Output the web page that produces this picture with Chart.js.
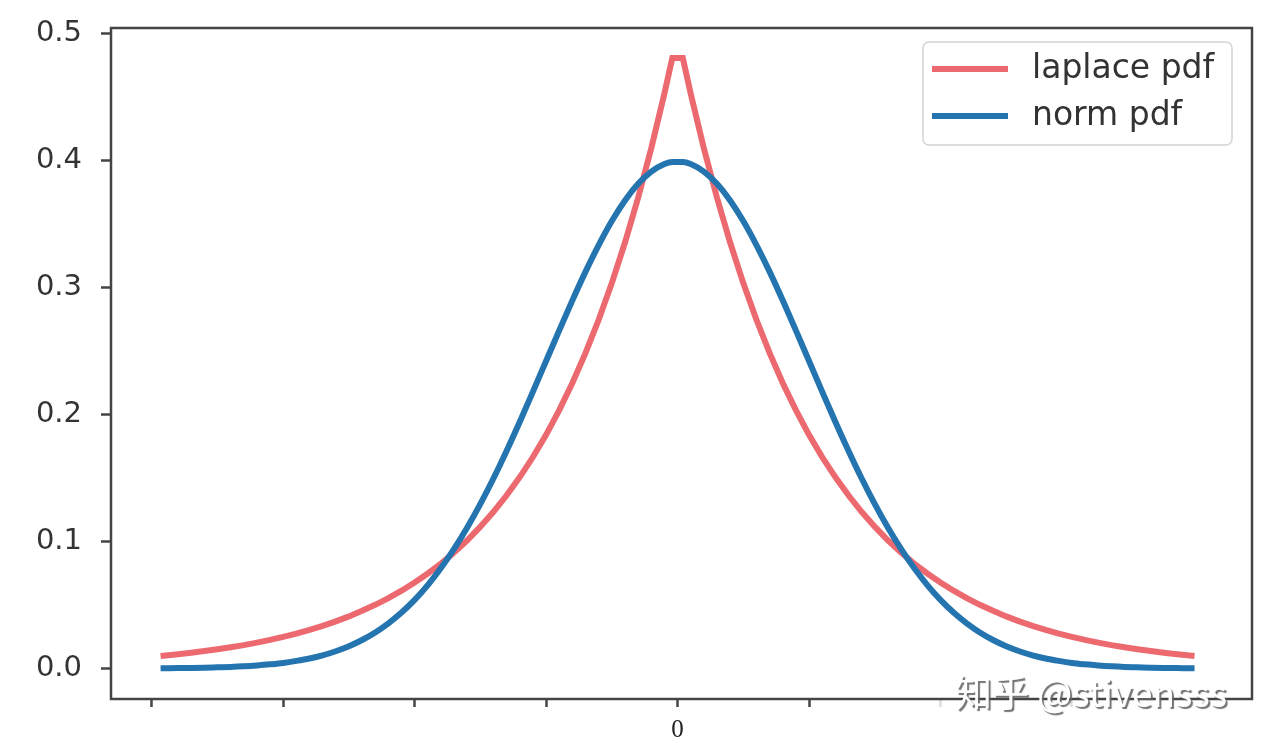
<!DOCTYPE html>
<html>
<head>
<meta charset="utf-8">
<script src="https://cdn.jsdelivr.net/npm/chart.js@4"></script>
<style>
  html, body { margin: 0; padding: 0; background: #fff; }
  canvas { display: block; }
</style>
</head>
<body>
<canvas id="mainChart" width="1268" height="743"></canvas>
<script>
// sample positions along x (shared by both curves)
const xValues = [
  -3.91, -3.8, -3.7, -3.6, -3.5, -3.4, -3.3, -3.2, -3.1, -3.0,
  -2.9, -2.8, -2.7, -2.6, -2.5, -2.4, -2.3, -2.2, -2.1, -2.0,
  -1.9, -1.8, -1.7, -1.6, -1.5, -1.4, -1.3, -1.2, -1.1, -1.0,
  -0.9, -0.8, -0.7, -0.6, -0.5, -0.4, -0.3, -0.2, -0.1, -0.04,
  0.04, 0.1, 0.2, 0.3, 0.4, 0.5, 0.6, 0.7, 0.8, 0.9,
  1.0, 1.1, 1.2, 1.3, 1.4, 1.5, 1.6, 1.7, 1.8, 1.9,
  2.0, 2.1, 2.2, 2.3, 2.4, 2.5, 2.6, 2.7, 2.8, 2.9,
  3.0, 3.1, 3.2, 3.3, 3.4, 3.5, 3.6, 3.7, 3.8, 3.91
];

const laplaceValues = [
  0.0100, 0.0112, 0.0124, 0.0137, 0.0151, 0.0167, 0.0184, 0.0204, 0.0225, 0.0249,
  0.0275, 0.0304, 0.0336, 0.0371, 0.0410, 0.0454, 0.0501, 0.0554, 0.0612, 0.0677,
  0.0748, 0.0826, 0.0913, 0.1009, 0.1116, 0.1233, 0.1363, 0.1506, 0.1664, 0.1839,
  0.2033, 0.2247, 0.2483, 0.2744, 0.3033, 0.3352, 0.3704, 0.4094, 0.4524, 0.4804,
  0.4804, 0.4524, 0.4094, 0.3704, 0.3352, 0.3033, 0.2744, 0.2483, 0.2247, 0.2033,
  0.1839, 0.1664, 0.1506, 0.1363, 0.1233, 0.1116, 0.1009, 0.0913, 0.0826, 0.0748,
  0.0677, 0.0612, 0.0554, 0.0501, 0.0454, 0.0410, 0.0371, 0.0336, 0.0304, 0.0275,
  0.0249, 0.0225, 0.0204, 0.0184, 0.0167, 0.0151, 0.0137, 0.0124, 0.0112, 0.0100
];

const normValues = [
  0.0002, 0.0003, 0.0004, 0.0006, 0.0009, 0.0012, 0.0017, 0.0024, 0.0033, 0.0044,
  0.0060, 0.0079, 0.0104, 0.0136, 0.0175, 0.0224, 0.0283, 0.0355, 0.0440, 0.0540,
  0.0656, 0.0790, 0.0941, 0.1109, 0.1295, 0.1497, 0.1714, 0.1942, 0.2179, 0.2420,
  0.2661, 0.2897, 0.3123, 0.3332, 0.3521, 0.3683, 0.3814, 0.3910, 0.3970, 0.3986,
  0.3986, 0.3970, 0.3910, 0.3814, 0.3683, 0.3521, 0.3332, 0.3123, 0.2897, 0.2661,
  0.2420, 0.2179, 0.1942, 0.1714, 0.1497, 0.1295, 0.1109, 0.0941, 0.0790, 0.0656,
  0.0540, 0.0440, 0.0355, 0.0283, 0.0224, 0.0175, 0.0136, 0.0104, 0.0079, 0.0060,
  0.0044, 0.0033, 0.0024, 0.0017, 0.0012, 0.0009, 0.0006, 0.0004, 0.0003, 0.0002
];

const seriesLabels = ["laplace pdf", "norm pdf"];
const xTicks = [-4, -3, -2, -1, 0, 1, 2, 3, 4];
const yTicks = [0.0, 0.1, 0.2, 0.3, 0.4, 0.5];

const redLine = '#ec6a6f';
const blueLine = '#2474b0';
const axisColor = '#444';

// axes frame (all four spines, like matplotlib)
const framePlugin = {
  id: 'frame',
  beforeDatasetsDraw(chart) {
    const { ctx, chartArea: a } = chart;
    ctx.save();
    ctx.strokeStyle = axisColor;
    ctx.lineWidth = 2.5;
    ctx.strokeRect(a.left, a.top, a.right - a.left, a.bottom - a.top);
    ctx.restore();
  }
};

// legend box inside the upper right corner
const legendPlugin = {
  id: 'innerLegend',
  afterDatasetsDraw(chart) {
    const { ctx, chartArea: a } = chart;
    const boxX = a.right - 329, boxY = a.top + 14, boxW = 309, boxH = 103;
    ctx.save();
    ctx.beginPath();
    ctx.roundRect(boxX, boxY, boxW, boxH, 6);
    ctx.fillStyle = 'rgba(255,255,255,0.85)';
    ctx.fill();
    ctx.strokeStyle = '#d4d4d4';
    ctx.lineWidth = 1.5;
    ctx.stroke();

    chart.data.datasets.forEach((ds, i) => {
      const y = boxY + 27 + i * 47;
      ctx.beginPath();
      ctx.strokeStyle = ds.borderColor;
      ctx.lineWidth = 6;
      ctx.moveTo(boxX + 9, y);
      ctx.lineTo(boxX + 85, y);
      ctx.stroke();
      ctx.fillStyle = '#333';
      ctx.font = '33px "DejaVu Sans"';
      ctx.textBaseline = 'middle';
      ctx.fillText(ds.label, boxX + 109, y);
    });
    ctx.restore();
  }
};

// site watermark at the bottom right
const watermarkPlugin = {
  id: 'watermark',
  afterDraw(chart) {
    const { ctx } = chart;
    ctx.save();
    ctx.font = '37px "Noto Sans CJK SC"';
    ctx.textBaseline = 'alphabetic';
    ctx.shadowColor = 'rgba(100,100,100,0.9)';
    ctx.shadowOffsetX = 2;
    ctx.shadowOffsetY = 2;
    ctx.shadowBlur = 1;
    ctx.fillStyle = '#ffffff';
    ctx.fillText('知乎 @stivensss', 955, 707);
    ctx.restore();
  }
};

const ctx = document.getElementById('mainChart').getContext('2d');

new Chart(ctx, {
  type: 'line',
  data: {
    datasets: [
      {
        label: seriesLabels[0],
        data: xValues.map((x, i) => ({ x, y: laplaceValues[i] })),
        borderColor: redLine,
        borderWidth: 6,
        borderCapStyle: 'square',
        pointRadius: 0,
        tension: 0,
        order: 2
      },
      {
        label: seriesLabels[1],
        data: xValues.map((x, i) => ({ x, y: normValues[i] })),
        borderColor: blueLine,
        borderWidth: 6,
        borderCapStyle: 'square',
        pointRadius: 0,
        cubicInterpolationMode: 'monotone',
        order: 1
      }
    ]
  },
  options: {
    responsive: false,
    animation: false,
    devicePixelRatio: 1,
    layout: { padding: { top: 28, right: 16, left: 0, bottom: 0 } },
    plugins: {
      legend: { display: false },
      tooltip: { enabled: false }
    },
    scales: {
      x: {
        type: 'linear',
        min: -4.31,
        max: 4.37,
        afterFit: scale => {
          scale.height = 44;
          scale.paddingLeft = 0;
          scale.paddingRight = 0;
        },
        afterBuildTicks: scale => { scale.ticks = xTicks.map(v => ({ value: v })); },
        border: { display: false },
        grid: {
          drawOnChartArea: false,
          drawTicks: true,
          tickLength: 8,
          tickWidth: 2.5,
          tickColor: c => (c.tick && c.tick.value >= 2) ? '#dddddd' : axisColor
        },
        ticks: {
          autoSkip: false,
          maxRotation: 0,
          padding: 8,
          color: '#222',
          font: { family: '"Liberation Serif", "Times New Roman", serif', size: 25 },
          callback: v => v === 0 ? '0' : ''
        }
      },
      y: {
        min: -0.024,
        max: 0.504,
        afterFit: scale => {
          scale.width = 111;
          scale.paddingTop = 0;
          scale.paddingBottom = 0;
        },
        afterBuildTicks: scale => { scale.ticks = yTicks.map(v => ({ value: v })); },
        border: { display: false },
        grid: {
          drawOnChartArea: false,
          drawTicks: true,
          tickLength: 10,
          tickWidth: 2.5,
          tickColor: axisColor
        },
        ticks: {
          padding: 19,
          color: '#333',
          font: { family: '"DejaVu Sans"', size: 29 },
          callback: v => Number(v).toFixed(1)
        }
      }
    }
  },
  plugins: [framePlugin, legendPlugin, watermarkPlugin]
});
</script>
</body>
</html>
